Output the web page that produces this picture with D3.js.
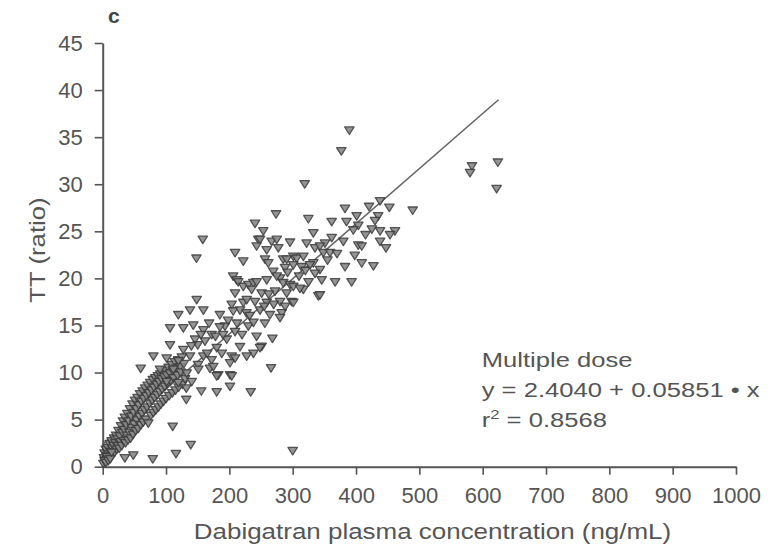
<!DOCTYPE html>
<html><head><meta charset="utf-8">
<script src="https://cdn.jsdelivr.net/npm/d3@7"></script>
<style>body{margin:0;background:#fff} text{font-family:"Liberation Sans",Arial,Helvetica,sans-serif}</style>
</head><body><svg id="chart" width="770" height="547"></svg>
<script>
const panelLabel = "c";
const xTitle = "Dabigatran plasma concentration (ng/mL)";
const yTitle = "TT (ratio)";
const xTickValues = [0,100,200,300,400,500,600,700,800,900,1000];
const yTickValues = [0,5,10,15,20,25,30,35,40,45];
const fitIntercept = 2.4040, fitSlope = 0.05851, fitXMax = 625;
const annotationLines = ["Multiple dose", "y = 2.4040 + 0.05851 \u2022 x"];
const r2Text = "0.8568";

// dense low-concentration band
const bandPoints = [[2,0.9],[3,1.4],[4,0.5],[5,1.8],[6,1.1],[7,0.7],[8,2.0],[9,1.3],[10,0.9],[11,2.4],[12,1.6],[13,1.1],[14,2.7],[15,1.9],[16,1.3],[17,2.2],[18,3.0],[19,1.5],[20,2.5],[21,3.3],[22,1.8],[23,2.9],[24,2.2],[25,3.8],[26,1.9],[27,3.2],[28,2.6],[29,4.3],[30,2.2],[31,3.6],[32,4.8],[33,2.7],[34,3.9],[35,5.2],[36,2.5],[37,4.4],[38,3.3],[39,5.6],[40,2.8],[41,4.8],[42,3.6],[43,6.1],[44,3.0],[45,5.3],[46,4.1],[47,6.6],[48,3.4],[49,5.7],[50,4.5],[51,7.0],[52,3.8],[53,6.1],[54,4.9],[55,7.3],[56,4.0],[57,6.5],[58,5.3],[59,7.7],[60,4.4],[61,6.9],[62,5.6],[63,8.0],[64,4.7],[65,7.2],[66,6.0],[67,8.3],[68,5.0],[69,7.5],[70,6.3],[71,8.6],[72,4.6],[73,7.8],[74,6.7],[75,8.9],[76,5.4],[77,8.1],[78,7.0],[79,9.2],[80,5.7],[81,8.4],[82,7.3],[83,9.4],[84,6.0],[85,8.7],[86,7.6],[87,9.6],[88,6.3],[89,9.0],[90,7.9],[91,9.8],[92,6.6],[93,9.3],[94,8.2],[95,10.0],[96,6.9],[97,9.5],[98,8.5],[99,10.2],[100,7.2],[101,9.7],[102,8.8],[104,10.5],[105,7.5],[106,9.9],[107,9.1],[109,10.8],[110,7.8],[111,10.1],[112,9.4],[114,11.1],[115,8.1],[116,10.4],[118,9.7],[119,11.3],[120,8.4],[122,10.6],[123,10.0],[125,11.6],[126,8.7],[128,10.9],[130,9.3],[1,0.3],[3,0.6],[5,0.4],[7,1.0],[9,0.6],[12,0.8],[14,1.5]];

// mid range
const midPoints = [[148,22.1],[158,24.1],[209,22.7],[222,21.8],[240.5,25.8],[253.6,25.0],[245.7,24.1],[248.4,24.1],[266.8,23.9],[274.8,24.1],[273.7,26.8],[295.8,23.8],[259,23.0],[243,23.4],[277.3,23.2],[285,22.0],[301,22.3],[256.3,22.0],[290.5,22.0],[306.3,22.1],[287.9,21.1],[301,21.4],[261.5,21.6],[269.4,20.7],[280,20.0],[206,20.2],[211.6,19.8],[214,19.6],[222,19.1],[230,19.3],[237.8,19.5],[243,19.6],[259,19.8],[274.8,20.2],[285,19.5],[295.8,19.3],[301,19.1],[209,18.4],[235.3,18.8],[251,18.4],[272,18.6],[290.5,18.4],[203.7,17.2],[222,17.4],[227.4,17.7],[240.5,17.5],[259,17.4],[280,17.5],[298.4,17.5],[301,17.4],[148.4,17.7],[137.9,16.6],[119.4,16.1],[159,16.6],[185,16.1],[206,16.5],[216.8,16.6],[227,16.3],[248.4,16.6],[264,16.1],[282.7,16.3],[280,15.8],[256,15.2],[268,13.6],[106.3,14.7],[127.3,14.7],[143,15.0],[159,14.5],[172,14.0],[193,14.9],[209,14.3],[230,14.9],[243,13.8],[195.8,13.5],[216.8,12.7],[180,12.6],[161.5,13.3],[145.7,13.5],[106.3,12.9],[127.3,12.4],[251,12.75],[238,12.0],[248.4,12.6],[80,11.7],[101,11.5],[119.4,11.2],[137.9,11.7],[159,11.7],[172,11.3],[188,12.0],[203.7,11.7],[201,11.0],[209,11.5],[227.4,11.7],[60,10.4],[90.5,10.3],[111.5,10.3],[132.6,9.9],[150.5,10.8],[151,10.3],[169.4,10.4],[174.6,10.6],[182.5,9.7],[201,9.7],[203.7,9.6],[180,9.6],[265.8,10.45],[101,9.0],[119.4,8.9],[140.5,9.0],[132,8.3],[132,7.1],[155.7,8.0],[180,7.9],[201,8.5],[233.7,7.9],[110.5,4.25],[139,2.3],[35,0.9],[48.3,1.2],[79,0.8],[115.7,1.35],[300,1.67],[150,12.9],[165,12.0],[178,13.8],[190,14.0],[198,15.5],[212,15.2],[220,14.0],[232,16.0],[238,15.3],[255,17.0],[262,18.3],[270,17.2],[288,17.0],[292,20.6],[140,12.8],[155,14.0],[168,15.2],[185,14.8]];

// high range
const highPoints = [[389.5,35.7],[376.8,33.5],[319,30.0],[382.6,27.4],[420.5,27.6],[438,28.2],[452.6,27.5],[489.5,27.2],[435,26.6],[324.7,26.3],[361.6,26.0],[385,26.0],[401,26.6],[403.6,25.6],[395.7,25.1],[438,25.0],[461.5,25.0],[453.7,24.6],[438,23.9],[447.3,23.2],[403.6,23.5],[409,23.4],[380,23.9],[361.6,24.3],[351,23.7],[335.2,23.2],[382.6,21.2],[409,21.6],[427.5,21.3],[332.6,24.8],[322,23.7],[343,23.4],[348.4,22.7],[359,22.7],[332.6,21.6],[327.3,21.4],[343,20.9],[335.2,20.5],[316.8,22.3],[314,21.2],[393,19.6],[367,19.6],[345.8,19.8],[316.8,18.8],[311.5,18.9],[340.5,18.1],[343,18.2],[310,20.2],[320,20.8],[325,19.6],[355,21.9],[370,22.6],[398,22.4],[415,24.6],[425,25.2],[430,26.1],[583,31.9],[580,31.2],[624,32.3],[622,29.5]];

const svg = d3.select("#chart");
const x = d3.scaleLinear().domain([0,1000]).range([102.7,736]);
const y = d3.scaleLinear().domain([0,45]).range([466.7,43]);
const axisColor = "#555", textColor = "#555";

// axes
const gx = svg.append("g").attr("transform", `translate(0,${y(0)})`)
  .call(d3.axisBottom(x).tickValues(xTickValues).tickFormat(d3.format("d")).tickSize(8).tickSizeOuter(0).tickPadding(13));
const gy = svg.append("g").attr("transform", `translate(${x(0)},0)`)
  .call(d3.axisLeft(y).tickValues(yTickValues).tickFormat(d3.format("d")).tickSize(8).tickSizeOuter(0).tickPadding(12));
[gx, gy].forEach(g => {
  g.select(".domain").attr("stroke", axisColor).attr("stroke-width", 2);
  g.selectAll(".tick line").attr("stroke", axisColor).attr("stroke-width", 1.6);
  g.selectAll(".tick text").attr("fill", textColor).style("font-size", "22px")
    .style("font-family", '"Liberation Sans",Arial,sans-serif');
});

// regression line
svg.append("line")
  .attr("x1", x(0)).attr("y1", y(fitIntercept))
  .attr("x2", x(fitXMax)).attr("y2", y(fitIntercept + fitSlope*fitXMax))
  .attr("stroke", "#666").attr("stroke-width", 1.6);

// points
const allPoints = bandPoints.concat(midPoints, highPoints);
svg.append("g").selectAll("path").data(allPoints).join("path")
  .attr("transform", d => `translate(${x(d[0])},${y(d[1])})`)
  .attr("d", "M-4.7,-3.6L4.7,-3.6L0,3.9Z")
  .attr("fill", "#8a8a8a").attr("stroke", "#3f3f3f").attr("stroke-width", 1.3)
  .attr("stroke-linejoin", "round").attr("opacity", 0.9);

// titles
svg.append("text").attr("x", 108).attr("y", 23).text(panelLabel)
  .attr("fill", "#444").style("font-size", "21px").style("font-weight", "bold");

svg.append("g").attr("transform", "translate(432.5,539) scale(1.18,1)")
  .append("text").attr("text-anchor", "middle").attr("fill", textColor)
  .style("font-size", "22px").text(xTitle);

svg.append("g").attr("transform", "translate(45,250) rotate(-90) scale(1.17,1)")
  .append("text").attr("text-anchor", "middle").attr("fill", textColor)
  .style("font-size", "22px").text(yTitle);

// annotation
const ann = svg.append("g").attr("transform", "translate(481.7,367) scale(1.28,1)");
annotationLines.forEach((t, i) => {
  ann.append("text").attr("x", 0).attr("y", i*30.5).attr("fill", textColor)
    .style("font-size", "20px").text(t);
});
const r2 = ann.append("text").attr("x", 0).attr("y", 60).attr("fill", textColor).style("font-size", "20px");
r2.append("tspan").text("r");
r2.append("tspan").attr("dy", -8).style("font-size", "13px").text("2");
r2.append("tspan").attr("dy", 8).text(" = " + r2Text);
</script></body></html>
